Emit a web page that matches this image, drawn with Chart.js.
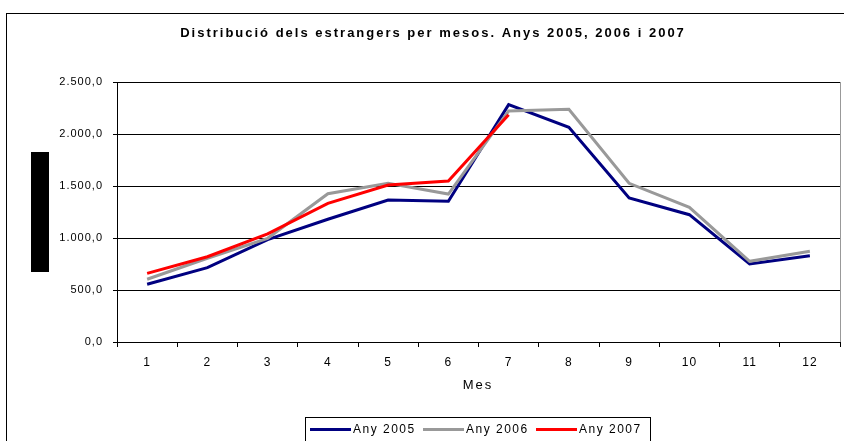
<!DOCTYPE html>
<html>
<head>
<meta charset="utf-8">
<script src="https://cdn.jsdelivr.net/npm/chart.js@4.4.1/dist/chart.umd.min.js"></script>
<style>
  html, body { margin: 0; padding: 0; background: #fff; }
  .chartCon { width: 844px; height: 441px; }
</style>
</head>
<body>
<div class="chartCon"><canvas id="myChart" width="844" height="441"></canvas></div>
<script>
// dades llegides del gràfic
const mesos = ['1', '2', '3', '4', '5', '6', '7', '8', '9', '10', '11', '12'];
const any2005 = [555, 715, 985, 1180, 1365, 1353, 2282, 2064, 1385, 1224, 750, 830];
const any2006 = [603, 805, 997, 1426, 1526, 1423, 2221, 2237, 1526, 1295, 776, 872];
const any2007 = [660, 820, 1040, 1333, 1510, 1548, 2186];
const etiquetes = ['Any 2005', 'Any 2006', 'Any 2007'];
const colors = ['#000080', '#999999', '#ff0000'];
const yTicks = [0, 500, 1000, 1500, 2000, 2500];
const titol = 'Distribució dels estrangers per mesos. Anys 2005, 2006 i 2007';
const titolX = 'Mes';

const FONT = '"Liberation Sans", Arial, sans-serif';

// format 2.500,0
function formatNum(v) {
  const s = Math.round(v).toString().replace(/\B(?=(\d{3})+(?!\d))/g, '.');
  return s + ',0';
}

// marc, títol, llegenda i el requadre negre de l'esquerra
const decor = {
  id: 'decor',
  beforeLayout(chart) {
    chart.ctx.letterSpacing = '1px'; // les etiquetes dels eixos van espaiades
  },
  beforeDraw(chart) {
    const ctx = chart.ctx;
    ctx.letterSpacing = '1px';
    ctx.save();
    ctx.fillStyle = '#fff';
    ctx.fillRect(0, 0, chart.width, chart.height);
    ctx.strokeStyle = '#000';
    ctx.lineWidth = 1;
    ctx.strokeRect(6.5, 13.5, 900, 500);
    ctx.fillStyle = '#000';
    ctx.fillRect(31, 152, 18, 120);
    ctx.restore();
  },
  afterDraw(chart) {
    const ctx = chart.ctx;
    const a = chart.chartArea;
    ctx.save();
    // vora dreta de l'àrea de dibuix
    ctx.strokeStyle = '#999';
    ctx.lineWidth = 1;
    ctx.beginPath();
    ctx.moveTo(Math.round(a.right) + 0.5, a.top);
    ctx.lineTo(Math.round(a.right) + 0.5, a.bottom);
    ctx.stroke();

    ctx.fillStyle = '#000';
    ctx.textBaseline = 'middle';
    // títol
    ctx.font = 'bold 13px ' + FONT;
    ctx.letterSpacing = '2px';
    ctx.textAlign = 'center';
    ctx.fillText(titol, 433, 33);
    // títol eix x
    ctx.font = '13px ' + FONT;
    ctx.letterSpacing = '2px';
    ctx.fillText(titolX, 478, 385);

    // llegenda
    ctx.strokeStyle = '#000';
    ctx.strokeRect(305.5, 417.5, 345, 40);
    const xs = [310, 423, 536];
    ctx.font = '12px ' + FONT;
    ctx.letterSpacing = '1.5px';
    ctx.textAlign = 'left';
    chart.data.datasets.forEach((ds, i) => {
      ctx.strokeStyle = ds.borderColor;
      ctx.lineWidth = 3;
      ctx.beginPath();
      ctx.moveTo(xs[i], 429.5);
      ctx.lineTo(xs[i] + 41, 429.5);
      ctx.stroke();
      ctx.fillStyle = '#000';
      ctx.fillText(ds.label, xs[i] + 43, 430);
    });
    ctx.restore();
  }
};

const chartArea = document.getElementById('myChart').getContext('2d');
const myChart = new Chart(chartArea, {
  type: 'line',
  data: {
    labels: mesos,
    datasets: [
      { label: etiquetes[0], data: any2005, borderColor: colors[0], order: 3 },
      { label: etiquetes[1], data: any2006, borderColor: colors[1], order: 2 },
      { label: etiquetes[2], data: any2007, borderColor: colors[2], order: 1 }
    ].map(d => Object.assign(d, {
      borderWidth: 3, pointRadius: 0, pointHoverRadius: 0, tension: 0, fill: false
    }))
  },
  options: {
    responsive: false,
    animation: false,
    events: [],
    layout: { padding: { left: 0, top: 82, right: 4, bottom: 0 } },
    plugins: {
      legend: { display: false },
      title: { display: false },
      tooltip: { enabled: false }
    },
    scales: {
      x: {
        offset: true,
        afterFit(scale) { scale.height = 99; },
        grid: {
          offset: true, drawOnChartArea: false, drawTicks: true,
          tickLength: 5, color: '#000', lineWidth: 1
        },
        border: { display: true, color: '#000', width: 1 },
        ticks: { color: '#000', padding: 8, font: { family: FONT, size: 12 }, maxRotation: 0 }
      },
      y: {
        min: 0,
        max: 2500,
        afterFit(scale) { scale.width = 117; },
        afterBuildTicks(scale) { scale.ticks = yTicks.map(v => ({ value: v })); },
        grid: { color: '#000', lineWidth: 1, tickLength: 4, drawTicks: true },
        border: { display: true, color: '#000', width: 1 },
        ticks: {
          color: '#000', padding: 10, font: { family: FONT, size: 11 },
          callback: v => formatNum(v)
        }
      }
    }
  },
  plugins: [decor]
});
</script>
</body>
</html>
